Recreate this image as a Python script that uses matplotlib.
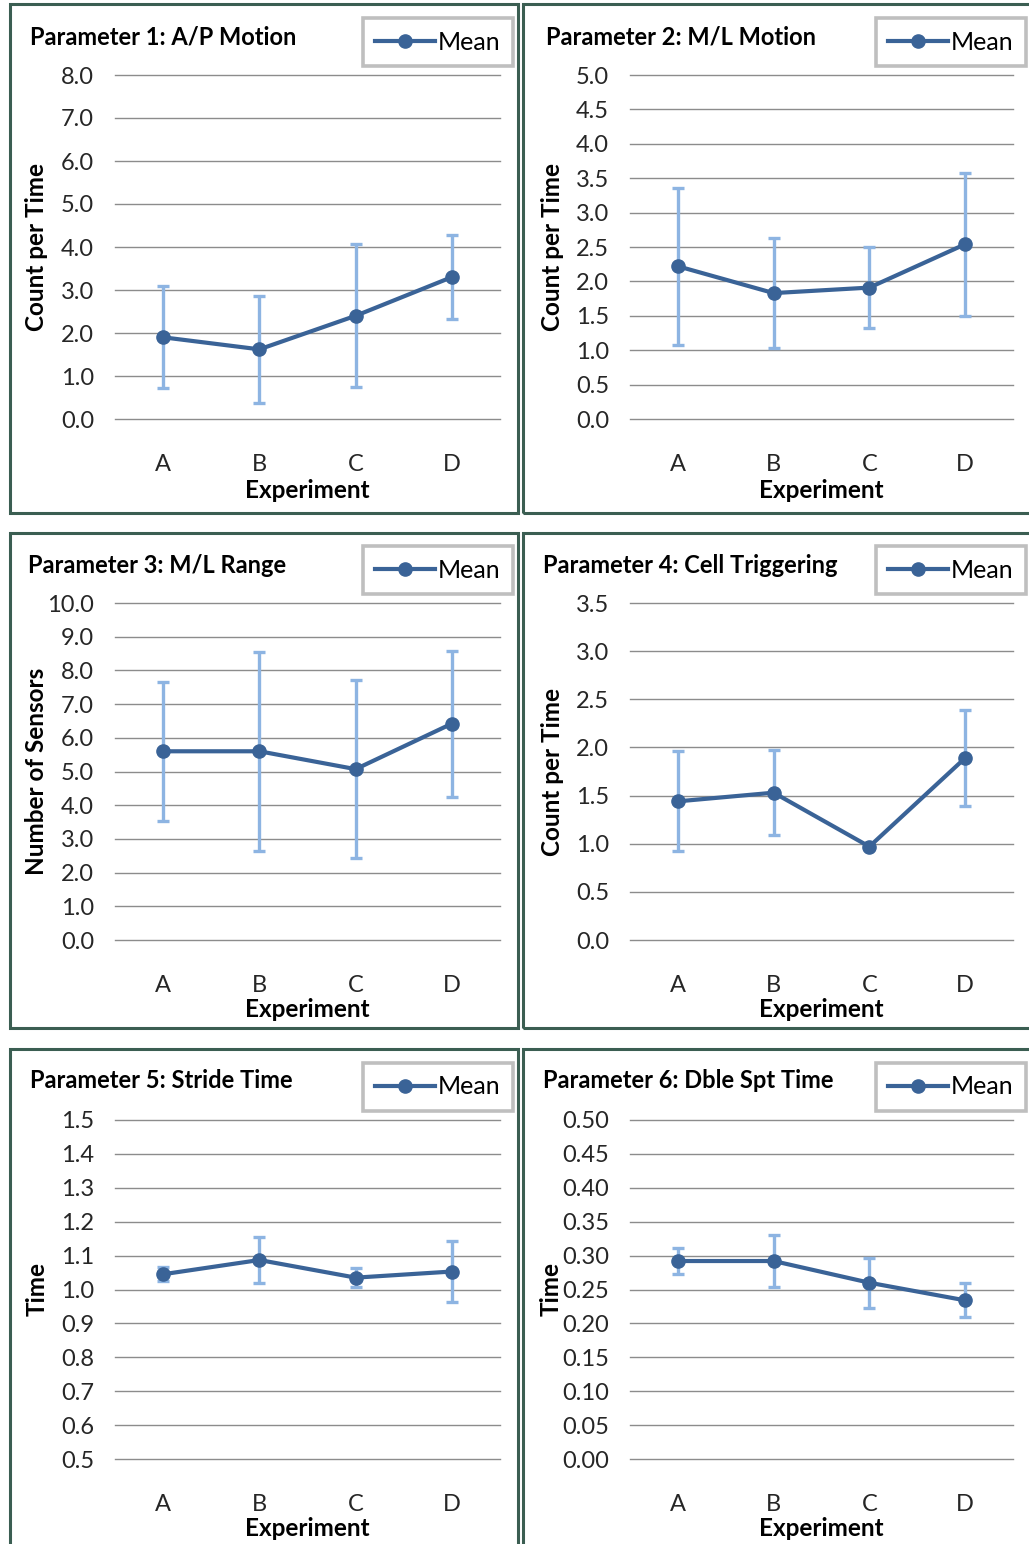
"""Six gait-parameter panels: mean per experiment with error bars (Excel-style)."""

import matplotlib

matplotlib.use("Agg")

import matplotlib.pyplot as plt
import numpy as np
from matplotlib.patches import Rectangle

W, H = 1029, 1544

EXPERIMENTS = ["A", "B", "C", "D"]

P1_MEAN = [1.90, 1.62, 2.40, 3.30]
P1_ERR = [1.19, 1.25, 1.66, 0.97]
P2_MEAN = [2.22, 1.83, 1.91, 2.54]
P2_ERR = [1.14, 0.80, 0.59, 1.04]
P3_MEAN = [5.60, 5.60, 5.07, 6.42]
P3_ERR = [2.07, 2.96, 2.65, 2.17]
P4_MEAN = [1.44, 1.53, 0.97, 1.89]
P4_ERR = [0.52, 0.44, 0.0, 0.50]
P5_MEAN = [1.045, 1.087, 1.035, 1.053]
P5_ERR = [0.021, 0.069, 0.027, 0.090]
P6_MEAN = [0.292, 0.292, 0.260, 0.234]
P6_ERR = [0.019, 0.038, 0.037, 0.025]

TITLES = ["Parameter 1: A/P Motion", "Parameter 2: M/L Motion",
          "Parameter 3: M/L Range", "Parameter 4: Cell Triggering",
          "Parameter 5: Stride Time", "Parameter 6: Dble Spt Time"]
YLABELS = ["Count per Time", "Count per Time", "Number of Sensors",
           "Count per Time", "Time", "Time"]
# (min, max, step, decimals) of each value axis
YAXES = [(0, 8, 1.0, 1), (0, 5, 0.5, 1), (0, 10, 1.0, 1),
         (0, 3.5, 0.5, 1), (0.5, 1.5, 0.1, 1), (0, 0.5, 0.05, 2)]

MEANS = [P1_MEAN, P2_MEAN, P3_MEAN, P4_MEAN, P5_MEAN, P6_MEAN]
ERRS = [P1_ERR, P2_ERR, P3_ERR, P4_ERR, P5_ERR, P6_ERR]

LINE = "#3a6397"
ERRC = "#8db4e2"
GRID = "#8c8c8c"
FRAME = "#3b5e52"
FS = 17

plt.rcParams["font.family"] = ["Lato", "DejaVu Sans"]

# pixel layout: plot area (left, right, top, bottom) and outer panel box
AREAS = [(115, 500, 75, 419), (630, 1013, 75, 419),
         (115, 500, 603, 940), (630, 1013, 603, 940),
         (115, 500, 1120, 1459), (630, 1013, 1120, 1459)]
BOXES = [(9.5, 518, 4.5, 513), (522.5, 1036, 4.5, 513),
         (9.5, 518, 533, 1028), (522.5, 1036, 533, 1028),
         (9.5, 518, 1049, 1552), (522.5, 1036, 1049, 1552)]
TITLE_POS = [(30, 37), (546, 37), (28, 565), (543, 565), (30, 1081), (543, 1081)]
YLABEL_X = [37, 552, 37, 552, 37, 551]
LEGEND_POS = [(438, 42), (951, 42), (438, 570), (951, 570), (438, 1087), (951, 1087)]

fig = plt.figure(figsize=(W / 100, H / 100), dpi=100)

for i in range(6):
    l, r, t, b = AREAS[i]
    ax = fig.add_axes([l / W, 1 - b / H, (r - l) / W, (b - t) / H])
    x = np.arange(len(EXPERIMENTS))
    ax.errorbar(x, MEANS[i], yerr=ERRS[i], fmt="none", ecolor=ERRC,
                elinewidth=2.4, capsize=4.5, capthick=2.4, zorder=2)
    ax.plot(x, MEANS[i], color=LINE, linewidth=3.0, marker="o",
            markersize=9.5, label="Mean", zorder=3)

    lo, hi, step, dec = YAXES[i]
    ticks = np.arange(lo, hi + step / 2, step)
    ax.set_ylim(lo, hi)
    ax.set_yticks(ticks)
    ax.set_yticklabels([f"{v:.{dec}f}" for v in ticks])
    ax.set_xlim(-0.5, len(EXPERIMENTS) - 0.5)
    ax.set_xticks(x)
    ax.set_xticklabels(EXPERIMENTS)
    ax.grid(axis="y", color=GRID, linewidth=1.0, zorder=0)
    for gl in ax.get_ygridlines():
        gl.set_clip_on(False)
    ax.set_axisbelow(True)
    for s in ax.spines.values():
        s.set_visible(False)
    ax.tick_params(axis="both", length=0, labelsize=FS, labelcolor="#262626")
    ax.tick_params(axis="y", pad=15)
    ax.tick_params(axis="x", pad=25)

    ax.set_xlabel("Experiment", fontsize=FS + 0.5, fontweight="bold", va="center")
    ax.xaxis.set_label_coords(0.5, -(490 - 419) / 344)
    ax.set_ylabel(YLABELS[i], fontsize=FS + 0.5, fontweight="bold", va="center")
    ax.yaxis.set_label_coords((YLABEL_X[i] - l) / (r - l), 0.5)

    tx, ty = TITLE_POS[i]
    ax.text((tx - l) / (r - l), (b - ty) / (b - t), TITLES[i],
            transform=ax.transAxes, ha="left", va="center",
            fontsize=FS, fontweight="bold")

    lx, ly = LEGEND_POS[i]
    leg = ax.legend(loc="center", bbox_to_anchor=(lx / W, 1 - ly / H),
                    bbox_transform=fig.transFigure, fontsize=FS + 1,
                    handlelength=2.4, handletextpad=0.1, borderpad=0.5,
                    fancybox=False, framealpha=1, numpoints=1)
    leg.get_frame().set_edgecolor("#bfbfbf")
    leg.get_frame().set_linewidth(2.6)

    bl, br, bt, bb = BOXES[i]
    fig.add_artist(Rectangle((bl / W, 1 - bb / H), (br - bl) / W, (bb - bt) / H,
                             transform=fig.transFigure, fill=False,
                             edgecolor=FRAME, linewidth=2.2))

fig.savefig("out.png", dpi=100)
